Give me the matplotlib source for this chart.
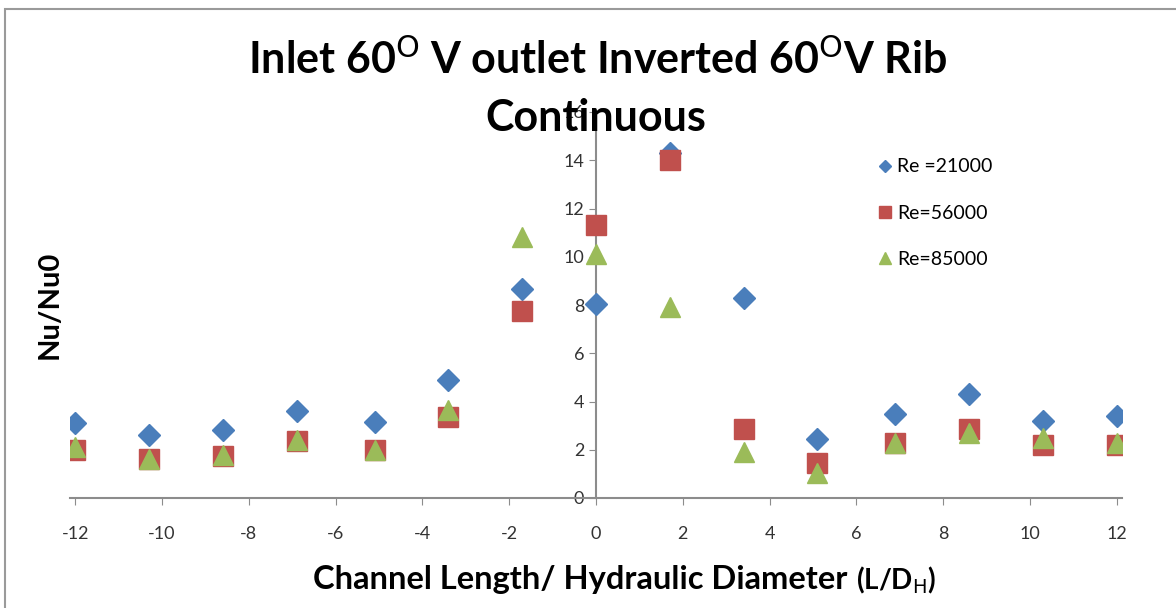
import matplotlib
matplotlib.use("Agg")
import matplotlib.pyplot as plt
from matplotlib.patches import Rectangle

# ---------------------------------------------------------------------------
# Data (L/DH vs Nu/Nu0)
# ---------------------------------------------------------------------------
x_pos = [-12, -10.3, -8.6, -6.9, -5.1, -3.4, -1.7, 0, 1.7, 3.4, 5.1, 6.9, 8.6, 10.3, 12]
re_21000 = [3.1, 2.6, 2.8, 3.6, 3.15, 4.9, 8.65, 8.05, 14.3, 8.3, 2.45, 3.5, 4.3, 3.2, 3.4]
re_56000 = [2.0, 1.6, 1.75, 2.35, 2.0, 3.35, 7.75, 11.3, 14.0, 2.85, 1.45, 2.3, 2.85, 2.2, 2.2]
re_85000 = [2.1, 1.6, 1.8, 2.4, 2.0, 3.65, 10.8, 10.1, 7.9, 1.9, 1.05, 2.3, 2.7, 2.5, 2.3]

series_labels = ["Re =21000", "Re=56000", "Re=85000"]
x_ticks = list(range(-12, 13, 2))
y_ticks = list(range(0, 17, 2))

FONT = "Lato"
AXIS_GREY = "#8c8c8c"
plt.rcParams["axes.unicode_minus"] = False

fig = plt.figure(figsize=(11.76, 6.08), dpi=100)
fig.patch.set_facecolor("white")

# chart border like the Excel chart area
fig.patches.append(Rectangle((5 / 1176, -0.02), 1.1, (608 - 9) / 608 + 0.02,
                             transform=fig.transFigure, fill=False,
                             edgecolor="#9a9a9a", linewidth=1.5))

ax = fig.add_axes([70 / 1176, 110 / 608, 1052 / 1176, 386 / 608])

ax.plot(x_pos, re_21000, linestyle="none", marker="D", ms=11,
        color="#4A7EBB", label=series_labels[0], zorder=3)
ax.plot(x_pos, re_56000, linestyle="none", marker="s", ms=15,
        color="#C0504D", label=series_labels[1], zorder=4)
ax.plot(x_pos, re_85000, linestyle="none", marker="^", ms=14,
        color="#9BBB59", label=series_labels[2], zorder=5)

ax.set_xlim(-12.12, 12.12)
ax.set_ylim(0, 16)
ax.set_xticks(x_ticks)
ax.set_yticks(y_ticks)

ax.spines["top"].set_visible(False)
ax.spines["right"].set_visible(False)
ax.spines["left"].set_position(("data", 0))
ax.spines["bottom"].set_position(("data", 0))
for s in ("left", "bottom"):
    ax.spines[s].set_color(AXIS_GREY)
    ax.spines[s].set_linewidth(1.5)

ax.tick_params(axis="both", direction="out", length=5, color=AXIS_GREY,
               labelsize=13, labelcolor="#333333")
ax.tick_params(axis="x", pad=15)
for lbl in ax.get_xticklabels() + ax.get_yticklabels():
    lbl.set_fontfamily(FONT)

# axis titles - the (L/DH) part is a separate run in the original
fig.text(847 / 1176, 1 - 580 / 608, "Channel Length/ Hydraulic Diameter",
         ha="right", va="center", fontsize=23.5, fontfamily=FONT, fontweight="bold")
fig.text(856 / 1176, 1 - 580 / 608, "(L/D$_{\\mathrm{H}}$)",
         ha="left", va="center", fontsize=20, fontfamily=FONT, fontweight="bold")
fig.text(50 / 1176, 1 - 305 / 608, "Nu/Nu0", rotation=90, ha="center", va="center",
         fontsize=21, fontfamily=FONT, fontweight="bold")

# chart title (two lines)
fig.text(598 / 1176, 1 - 60 / 608,
         "Inlet 60$^{\\mathrm{O}}$ V outlet Inverted 60$^{\\mathrm{O}}$V Rib",
         ha="center", va="center", fontsize=31, fontfamily=FONT, fontweight="bold")
fig.text(596 / 1176, 1 - 118 / 608, "Continuous",
         ha="center", va="center", fontsize=31, fontfamily=FONT, fontweight="bold",
         zorder=10)

leg = ax.legend(loc="upper left", bbox_to_anchor=(788 / 1052, 1 - 29 / 386),
                frameon=False, prop={"family": FONT, "size": 14},
                labelspacing=1.5, handletextpad=0.1, handlelength=1.0,
                markerscale=0.6)

plt.savefig("out.png", dpi=100, facecolor="white")
